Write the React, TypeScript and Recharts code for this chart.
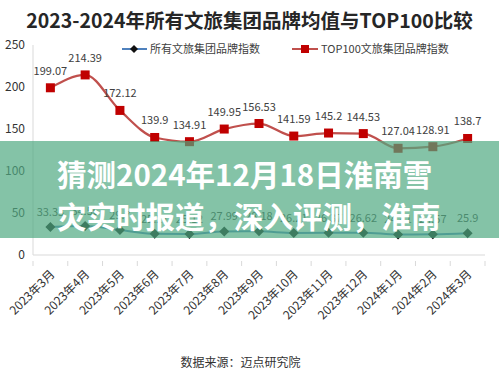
import React from 'react';
import { LineChart, Line, XAxis, YAxis, LabelList } from 'recharts';

const categories = ['2023年3月', '2023年4月', '2023年5月', '2023年6月', '2023年7月', '2023年8月', '2023年9月', '2023年10月', '2023年11月', '2023年12月', '2024年1月', '2024年2月', '2024年3月'];
const top100Index = [199.07, 214.39, 172.12, 139.9, 134.91, 149.95, 156.53, 141.59, 145.2, 144.53, 127.04, 128.91, 138.7];
const allBrandIndex = [33.33, 34.56, 29.7, 25.21, 25.12, 27.99, 28.18, 26.21, 26.37, 26.62, 24.41, 24.57, 25.9];
const yTicks = [0, 50, 100, 150, 200, 250];

const W = 499;
const H = 381;
const M = { top: 45, right: 14, left: 0 };
const Y_W = 33;
const X_H = 126;
const BAND = (W - Y_W - M.right - M.left) / categories.length;

const data = categories.map((c, i) => ({ month: c, all: allBrandIndex[i], top: top100Index[i] }));

const FONT = '"Noto Sans CJK SC", "Noto Sans", sans-serif';

function XTick(props: any) {
  const { x, y, payload, index } = props;
  const idx = index ?? payload?.index ?? 0;
  return (
    <g>
      <line x1={x - BAND / 2} x2={x - BAND / 2} y1={y - 8} y2={y - 3} stroke="#d9d9d9" />
      {idx === categories.length - 1 && (
        <line x1={x + BAND / 2} x2={x + BAND / 2} y1={y - 8} y2={y - 3} stroke="#d9d9d9" />
      )}
      <text
        x={0}
        y={0}
        transform={`translate(${x + 5},${y + 6}) rotate(-45)`}
        textAnchor="end"
        fontSize={12}
        fill="#333"
        fontFamily={FONT}
      >
        {payload.value}
      </text>
    </g>
  );
}

const SquareDot = (p: any) => {
  const { cx, cy, index } = p;
  if (cx == null || cy == null) return <g key={`s${index}`} />;
  return <rect key={`s${index}`} x={cx - 4.5} y={cy - 4.5} width={9} height={9} fill="#C00000" />;
};

const DiamondDot = (p: any) => {
  const { cx, cy, index } = p;
  if (cx == null || cy == null) return <g key={`d${index}`} />;
  const r = 5;
  return (
    <path key={`d${index}`} d={`M${cx},${cy - r} L${cx + r},${cy} L${cx},${cy + r} L${cx - r},${cy} Z`} fill="#111" />
  );
};

export default function App() {
  return (
    <div style={{ position: 'absolute', left: 0, top: 0, width: W, height: H, background: '#fff', fontFamily: FONT, overflow: 'hidden' }}>
      <div style={{ position: 'absolute', left: 0, top: 7, width: W, textAlign: 'center', fontSize: 19.5, fontWeight: 700, color: '#262626', lineHeight: '26px', whiteSpace: 'nowrap' }}>
        2023-2024年所有文旅集团品牌均值与TOP100比较
      </div>
      {/* legend */}
      <svg style={{ position: 'absolute', left: 0, top: 0 }} width={W} height={70}>
        <line x1={122} x2={147} y1={49} y2={49} stroke="#4F81BD" strokeWidth={2} />
        <path d="M134,45 L138,49 L134,53 L130,49 Z" fill="#111" />
        <text x={150} y={53} fontSize={11} fill="#404040" fontFamily={FONT}>所有文旅集团品牌指数</text>
        <line x1={292} x2={318} y1={49} y2={49} stroke="#C0504D" strokeWidth={2} />
        <rect x={301} y={45} width={8} height={8} fill="#C00000" />
        <text x={321} y={53} fontSize={11} fill="#404040" fontFamily={FONT}>TOP100文旅集团品牌指数</text>
      </svg>
      <div style={{ position: 'absolute', left: 0, top: 0 }}>
        <LineChart width={W} height={H} data={data} margin={{ top: M.top, right: M.right, left: M.left, bottom: 0 }} style={{ fontFamily: FONT }}>
          <XAxis
            dataKey="month"
            scale="band"
            interval={0}
            height={X_H}
            tickLine={false}
            axisLine={{ stroke: '#d9d9d9' }}
            tick={<XTick />}
            tickMargin={8}
          />
          <YAxis
            width={Y_W}
            domain={[0, 250]}
            ticks={yTicks}
            interval={0}
            tickLine={false}
            axisLine={{ stroke: '#d9d9d9' }}
            tick={{ fill: '#333', fontSize: 12, fontFamily: FONT }}
          />
          <Line dataKey="all" stroke="#4F81BD" strokeWidth={2} dot={DiamondDot} activeDot={false} isAnimationActive={false} type="monotone">
            <LabelList dataKey="all" position="top" offset={11} fill="#404040" fontSize={11} fontFamily={FONT} />
          </Line>
          <Line dataKey="top" stroke="#C0504D" strokeWidth={2.25} dot={SquareDot} activeDot={false} isAnimationActive={false} type="monotone">
            <LabelList dataKey="top" position="top" offset={13} fill="#404040" fontSize={11} fontFamily={FONT} />
          </Line>
        </LineChart>
      </div>
      {/* overlay band */}
      <div style={{ position: 'absolute', left: 0, top: 141, width: W, height: 97, background: 'rgba(80,170,130,0.7)' }} />
      <div style={{ position: 'absolute', left: 57, top: 152, fontSize: 29.5, fontWeight: 700, color: '#fff', lineHeight: '42px', whiteSpace: 'nowrap' }}>
        <div>猜测2024年12月18日淮南雪</div>
        <div>灾实时报道，深入评测，淮南</div>
      </div>
      <div style={{ position: 'absolute', left: 0, top: 354, width: W - 18, textAlign: 'center', fontSize: 12, color: '#333', lineHeight: '16px' }}>
        数据来源：迈点研究院
      </div>
    </div>
  );
}
